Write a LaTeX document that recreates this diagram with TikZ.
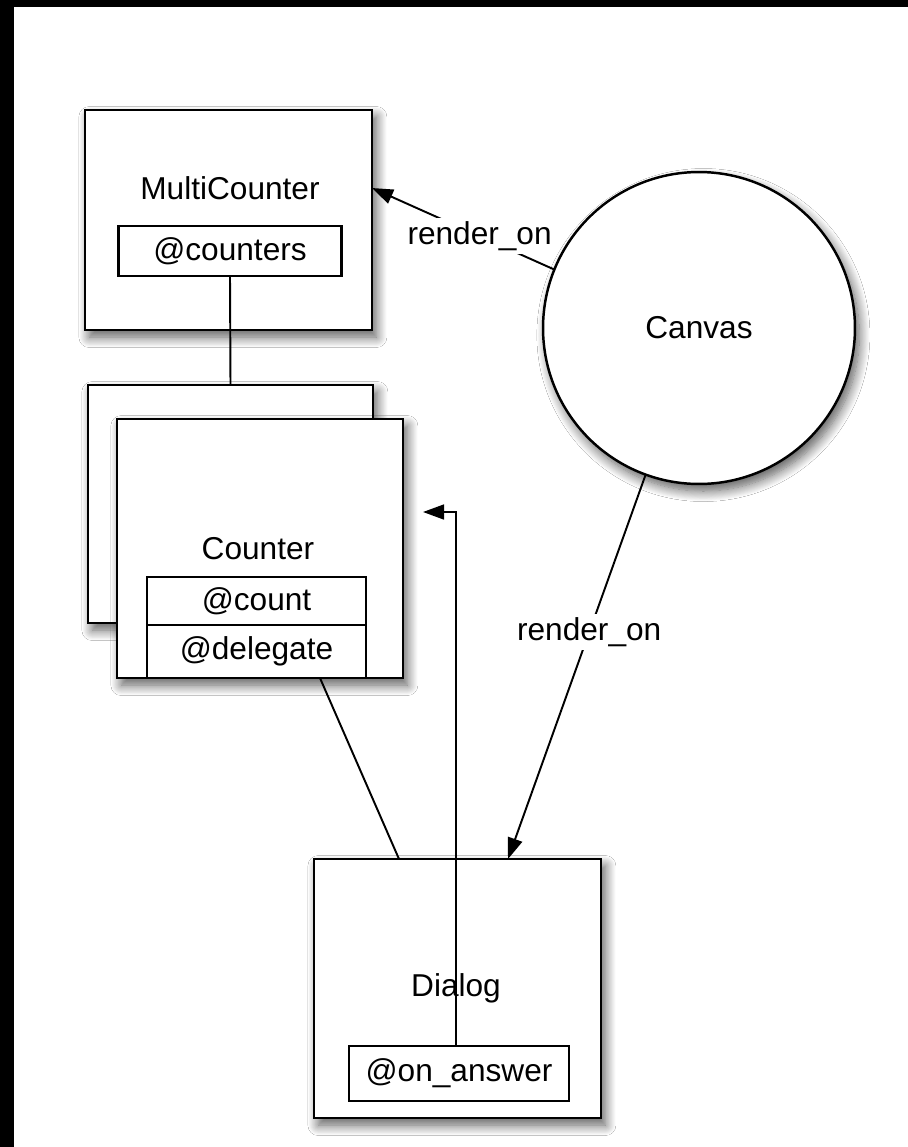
\documentclass[tikz,border=0pt]{standalone}
\usepackage{fontspec}
\setmainfont{Liberation Sans}
\usepackage{tikz}
\usetikzlibrary{arrows.meta,shadows,shadows.blur}

\begin{document}
\begin{tikzpicture}[x=0.02cm,y=-0.02cm,
		txt/.style={font=\fontsize{18}{22}\selectfont},
		shd/.style={blur shadow={shadow xshift=2.5pt,shadow yshift=-4pt,shadow blur radius=6pt,shadow blur steps=12,shadow opacity=65}},
		obj/.style={draw=black,fill=white,line width=1.4pt,inner sep=0pt,outer sep=0pt,shd},
		slot/.style={draw=black,fill=white,line width=1.2pt,inner sep=0pt,outer sep=0pt,txt},
		conn/.style={draw=black,line width=1.1pt},
		arr/.style={conn,-{Triangle[length=12pt,width=8.5pt]}},
		lbl/.style={txt,fill=white,inner sep=2pt}]
		\useasboundingbox (0,0) rectangle (908,1147);
		\fill[black] (0,0) rectangle (908,1147);
		\fill[white] (14,7) rectangle (908,1147);
		
		\node[obj,minimum width=5.74cm,minimum height=4.40cm] (mc) at (228.5,220) {};
		\node[txt] (mclabel) at (230,188) {MultiCounter};
		\node[slot,minimum width=4.46cm,minimum height=1.0cm] (counters) at (230,251) {@counters};
		
		\node[obj,minimum width=5.70cm,minimum height=4.76cm] (cback) at (230.5,504) {};
		\node[obj,minimum width=5.72cm,minimum height=5.18cm] (cfront) at (260,548.5) {};
		\node[txt] (clabel) at (258,549) {Counter};
		\node[slot,minimum width=4.38cm,minimum height=0.96cm] (count) at (256.5,601) {@count};
		\node[slot,minimum width=4.38cm,minimum height=1.06cm] (delegate) at (256.5,651.5) {@delegate};
		
		\node[obj,circle,minimum size=6.24cm,txt] (canvas) at (699,328) {Canvas};
		
		\node[obj,minimum width=5.74cm,minimum height=5.18cm] (dialog) at (457.5,988.5) {};
		\node[txt] (dlabel) at (456,988) {Dialog};
		\node[slot,minimum width=4.40cm,minimum height=1.10cm] (onanswer) at (459,1073.5) {@on\_answer};
		\coordinate (tip) at (423,512);
		
		\draw[conn] (counters.south) -- (cback.north);
		\draw[conn] ([xshift=1.27cm]delegate.south) -- ([xshift=-1.17cm]dialog.north);
		\draw[arr] (canvas.158) -- node[lbl,pos=0.41] {render\_on} ([yshift=0.64cm]mc.east);
		\draw[arr] (canvas.250) -- node[lbl,pos=0.41] {render\_on} ([xshift=1.01cm]dialog.north);
		\draw[arr] ([xshift=-0.06cm]onanswer.north) |- (tip);
	\end{tikzpicture}
\end{document}
